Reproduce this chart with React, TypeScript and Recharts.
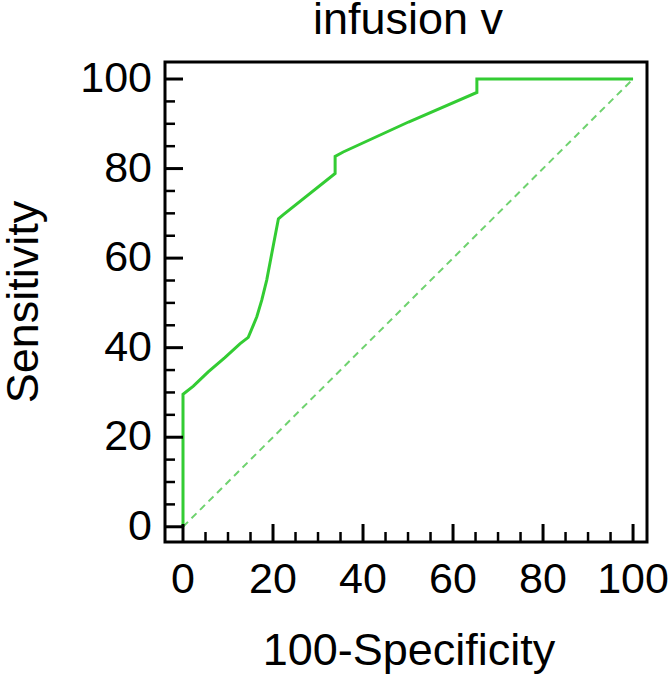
import { LineChart, Line, XAxis, YAxis, ReferenceArea, Label } from "recharts";

// ROC curve (100-Specificity, Sensitivity)
const rocX = [0, 0, 2.3, 5.6, 9.3, 12.7, 14.5, 16.4, 17.5, 18.6, 21.2, 22.3, 33.8, 33.8, 35.6, 50.1, 65.3, 65.3, 100];
const rocY = [0, 29.6, 31.4, 34.6, 37.8, 40.9, 42.3, 46.9, 50.6, 55.1, 68.8, 69.7, 78.9, 82.7, 83.7, 90.4, 97, 100, 100];

const diagX = [0, 100];
const diagY = [0, 100];

const axisTicks = [0, 5, 10, 15, 20, 25, 30, 35, 40, 45, 50, 55, 60, 65, 70, 75, 80, 85, 90, 95, 100];
const majorTicks = [0, 20, 40, 60, 80, 100];

const title = "infusion v";
const xTitle = "100-Specificity";
const yTitle = "Sensitivity";

const rocData = rocX.map((x, i) => ({ x, y: rocY[i] }));
const diagData = diagX.map((x, i) => ({ x, y: diagY[i] }));

const FONT = "'Liberation Sans', Arial, sans-serif";
const FS = 43;
const TITLE_FS = 45;

const XTick = ({ x, y, payload }: any) => {
  const major = majorTicks.includes(payload.value);
  return (
    <g>
      <line x1={x} x2={x} y1={y} y2={y - (major ? 18 : 10)} stroke="#000" strokeWidth={major ? 3 : 2.5} />
      {major && (
        <text x={x} y={y + 51} textAnchor="middle" fontFamily={FONT} fontSize={FS} fill="#000">
          {payload.value}
        </text>
      )}
    </g>
  );
};

const YTick = ({ x, y, payload }: any) => {
  const major = majorTicks.includes(payload.value);
  return (
    <g>
      <line x1={x} x2={x + (major ? 18 : 10)} y1={y} y2={y} stroke="#000" strokeWidth={major ? 3 : 2.5} />
      {major && (
        <text x={x - 13} y={y + 13} textAnchor="end" fontFamily={FONT} fontSize={FS} fill="#000">
          {payload.value}
        </text>
      )}
    </g>
  );
};

export default function App() {
  return (
    <div style={{ position: "absolute", left: 0, top: 0, width: 669, height: 681, background: "#fff" }}>
      <svg width={669} height={70} style={{ position: "absolute", left: 0, top: 0 }}>
        <text x={408} y={34} textAnchor="middle" fontFamily={FONT} fontSize={TITLE_FS} fill="#000">
          {title}
        </text>
      </svg>
      <LineChart width={669} height={681} margin={{ top: 62, right: 22, bottom: 0, left: 0 }}>
        <XAxis
          dataKey="x"
          type="number"
          domain={[-4, 103.1]}
          allowDataOverflow
          ticks={axisTicks}
          interval={0}
          height={139}
          tickSize={0}
          tickMargin={0}
          tickLine={false}
          axisLine={false}
          tick={<XTick />}
        >
          <Label
            content={({ viewBox }: any) => (
              <text
                x={viewBox.x + viewBox.width / 2 + 3}
                y={viewBox.y + 123}
                textAnchor="middle"
                fontFamily={FONT}
                fontSize={TITLE_FS}
                fill="#000"
              >
                {xTitle}
              </text>
            )}
          />
        </XAxis>
        <YAxis
          dataKey="y"
          type="number"
          domain={[-3.4, 103.8]}
          allowDataOverflow
          ticks={axisTicks}
          interval={0}
          width={165}
          tickSize={0}
          tickMargin={0}
          tickLine={false}
          axisLine={false}
          tick={<YTick />}
        >
          <Label
            content={({ viewBox }: any) => {
              const cx = 38;
              const cy = viewBox.y + viewBox.height / 2;
              return (
                <text
                  x={cx}
                  y={cy}
                  transform={`rotate(-90, ${cx}, ${cy})`}
                  textAnchor="middle"
                  fontFamily={FONT}
                  fontSize={TITLE_FS}
                  fill="#000"
                >
                  {yTitle}
                </text>
              );
            }}
          />
        </YAxis>
        <Line
          data={diagData}
          dataKey="y"
          stroke="#6fd26f"
          strokeWidth={2}
          strokeDasharray="7 5"
          dot={false}
          isAnimationActive={false}
        />
        <Line
          data={rocData}
          dataKey="y"
          stroke="#33cc33"
          strokeWidth={3}
          dot={false}
          type="linear"
          isAnimationActive={false}
        />
        <ReferenceArea x1={-4} x2={103.1} y1={-3.4} y2={103.8} fill="none" stroke="#000" strokeWidth={3} fillOpacity={0} ifOverflow="visible" />
      </LineChart>
    </div>
  );
}
